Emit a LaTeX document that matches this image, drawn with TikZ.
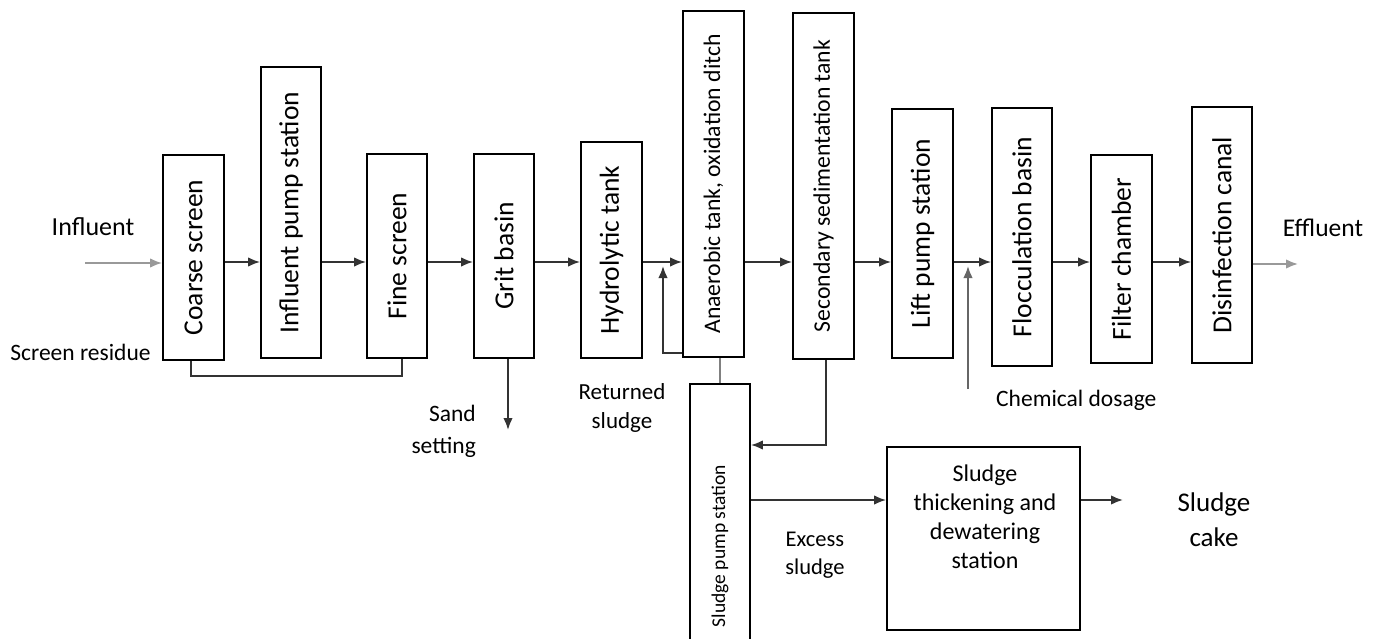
\documentclass[tikz,border=0pt]{standalone}
\usepackage{fontspec}
\setmainfont{Carlito}
\usetikzlibrary{arrows.meta}
\begin{document}
\begin{tikzpicture}[x=1pt,y=-1pt,
  box/.style={draw, line width=1.8, inner sep=0pt, font=\fontsize{27.5}{33}\selectfont},
  sbox/.style={box, font=\fontsize{23.7}{28}\selectfont},
  lbl/.style={inner sep=0pt, font=\fontsize{23.5}{29}\selectfont, align=center},
  flow/.style={line width=1.8, draw=black!80},
  arr/.style={flow, -{Latex[length=12,width=9.5]}}
]
\useasboundingbox (0,0) rectangle (1381,639);
% process boxes
\node[box, minimum width=61, minimum height=205] (coarse) at (193.5,257.5) {\rotatebox{90}{Coarse screen}};
\node[box, minimum width=60, minimum height=291] (inpump) at (291,212.5) {\rotatebox{90}{Influent pump station}};
\node[box, minimum width=60, minimum height=204] (fine) at (397,256) {\rotatebox{90}{Fine screen}};
\node[box, minimum width=60, minimum height=204] (grit) at (504,256) {\rotatebox{90}{Grit basin}};
\node[box, minimum width=61, minimum height=216] (hydro) at (611.5,250) {\rotatebox{90}{Hydrolytic tank}};
\node[sbox, minimum width=61, minimum height=346] (anaer) at (713.5,184) {\rotatebox{90}{Anaerobic tank, oxidation ditch}};
\node[sbox, minimum width=61, minimum height=346] (second) at (823.5,186) {\rotatebox{90}{Secondary sedimentation tank}};
\node[box, minimum width=61, minimum height=249] (lift) at (922.5,233.5) {\rotatebox{90}{Lift pump station}};
\node[box, minimum width=60, minimum height=258] (flocc) at (1022,237) {\rotatebox{90}{Flocculation basin}};
\node[box, minimum width=61, minimum height=208] (filter) at (1121.5,259) {\rotatebox{90}{Filter chamber}};
\node[box, minimum width=60, minimum height=256] (disinf) at (1222,235) {\rotatebox{90}{Disinfection canal}};
\node[box, minimum width=60, minimum height=256] (spump) at (720,512) {};
\node[inner sep=0pt, font=\fontsize{19.5}{23}\selectfont] (spumptext) at (720,546) {\rotatebox{90}{Sludge pump station}};
\node[box, minimum width=193, minimum height=183] (thick) at (983.5,538.5) {};
\node[lbl, font=\fontsize{24}{29}\selectfont] (thicktext) at (985,517) {Sludge\\thickening and\\dewatering\\station};
% labels
\node[lbl, font=\fontsize{26}{31}\selectfont] (influent) at (93,227) {Influent};
\node[lbl, font=\fontsize{25.5}{31}\selectfont] (effluent) at (1323,228) {Effluent};
\node[lbl] (residue) at (80.5,352) {Screen residue};
\node[lbl, align=right, anchor=east, font=\fontsize{23.5}{32}\selectfont] (sand) at (476,431) {Sand\\setting};
\node[lbl, font=\fontsize{23}{29}\selectfont] (returned) at (622,408) {Returned\\sludge};
\node[lbl, anchor=west] (chemlbl) at (996,400) {Chemical dosage};
\node[lbl, font=\fontsize{22.5}{28}\selectfont] (excess) at (815,555) {Excess\\sludge};
\node[lbl, font=\fontsize{27}{35}\selectfont] (cakelbl) at (1214,520) {Sludge\\cake};
% free ends
\coordinate (inf) at (85,263);
\coordinate (eff) at (1298,264);
\coordinate (sandend) at (508,430);
\coordinate (ret) at (663,353);
\coordinate (chem) at (968,389);
\coordinate (cake) at (1123,500);
% main flow
\foreach \a/\b in {coarse/inpump,inpump/fine,fine/grit,grit/hydro,hydro/anaer,anaer/second,second/lift,lift/flocc,flocc/filter,filter/disinf}
  \draw[arr] (\a.east |- 0,262) -- (\b.west |- 0,262);
\draw[arr, draw=black!40] (inf) -- (coarse.west |- inf);
\draw[arr, draw=black!40] (disinf.east |- eff) -- (eff);
% screen residue
\draw[flow] ([xshift=-2.5]coarse.south) -- ++(0,15) -| ([xshift=5]fine.south);
% sand
\draw[arr] (grit.south -| sandend) -- (sandend);
% returned sludge
\draw[arr] (anaer.west |- ret) -- (ret) -- (ret |- 0,266);
\draw[line width=2.2, draw=black!50] (spump.north) -- (spump.north |- anaer.south);
% secondary to sludge pump
\draw[arr] ([xshift=2.5]second.south) |- (spump.east |- 0,445);
% chemical dosage
\draw[arr, draw=black!60] (chem) -- (chem |- 0,266);
% excess sludge
\draw[arr] (spump.east |- 0,500) -- (thick.west |- 0,500);
\draw[arr] (thick.east |- cake) -- (cake);
\end{tikzpicture}
\end{document}
